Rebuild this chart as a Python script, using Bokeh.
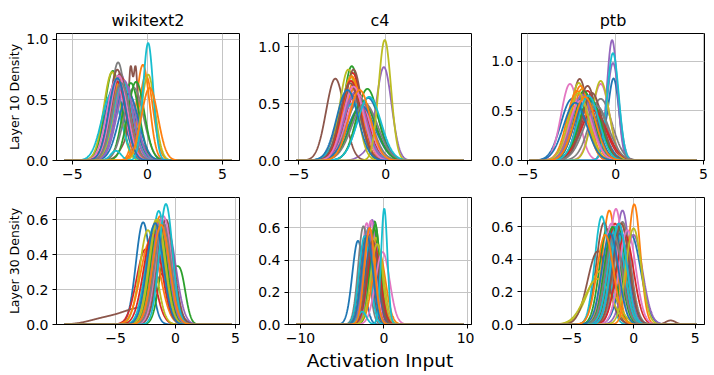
import numpy as np
from bokeh.plotting import figure
from bokeh.layouts import column, row
from bokeh.models import FixedTicker, CustomJSTickFormatter, Range1d
from bokeh.embed import file_html
from bokeh.resources import INLINE

PALETTE = ["#1f77b4", "#ff7f0e", "#2ca02c", "#d62728", "#9467bd",
           "#8c564b", "#e377c2", "#7f7f7f", "#bcbd22", "#17becf"]

# ---------------- data ----------------
# each curve: main peak centre, peak height, spread; extras: (curve, centre, height, spread)
titles = ["wikitext2", "c4", "ptb"]
row_labels = ["Layer 10 Density", "Layer 30 Density"]
x_label = "Activation Input"

# wikitext2, layer 10
w10_centers = [-2.2, -0.3, -2.3, -1.9, -1.8, -1.12, -1.95, -1.95, -2.35, -2.4,
               -1.5, -0.1, -1.1, -1.7, -1.4, -2.0, -2.1, -0.9, -1.6, -1.65,
               -1.25, -1.8, -0.75, -2.0, -1.55, -1.85, -1.9, -1.75, 0.05, 0.05,
               -2.0, 0.15]
w10_peaks = [0.62, 0.79, 0.74, 0.70, 0.72, 0.52, 0.70, 0.81, 0.73, 0.55,
             0.60, 0.70, 0.64, 0.68, 0.62, 0.75, 0.66, 0.60, 0.66, 0.65,
             0.55, 0.66, 0.65, 0.65, 0.66, 0.71, 0.70, 0.64, 0.71, 0.97,
             0.68, 0.60]
w10_widths = [0.62, 0.44, 0.54, 0.57, 0.56, 0.13, 0.57, 0.49, 0.55, 0.65,
              0.64, 0.48, 0.55, 0.58, 0.63, 0.52, 0.60, 0.64, 0.62, 0.64,
              0.66, 0.58, 0.55, 0.58, 0.58, 0.55, 0.57, 0.60, 0.45, 0.34,
              0.57, 0.55]
w10_extra = [(5, -0.78, 0.52, 0.13), (5, -0.95, 0.25, 0.60),
             (29, -2.1, 0.08, 0.35)]

# c4, layer 10
c10_centers = [-1.0, -1.8, -1.95, -1.9, -0.1, -2.9, -1.8, -2.1, -2.15, -1.6,
               -1.3, -1.75, -1.05, -1.7, -1.9, -1.85, -1.6, -1.5, -2.0, -1.9,
               -1.4, -1.95, -1.3, -2.0, -1.75, -2.05, -1.85, -1.2, -0.05, -0.95,
               -2.2, -1.5]
c10_peaks = [0.55, 0.70, 0.83, 0.77, 0.82, 0.72, 0.62, 0.60, 0.80, 0.50,
             0.50, 0.65, 0.63, 0.60, 0.55, 0.80, 0.58, 0.55, 0.74, 0.50,
             0.48, 0.74, 0.52, 0.70, 0.60, 0.68, 0.65, 0.50, 1.06, 0.56,
             0.62, 0.62]
c10_widths = [0.66, 0.55, 0.48, 0.52, 0.44, 0.53, 0.62, 0.65, 0.50, 0.75,
              0.75, 0.60, 0.62, 0.65, 0.70, 0.49, 0.66, 0.70, 0.54, 0.75,
              0.78, 0.54, 0.72, 0.56, 0.64, 0.58, 0.60, 0.75, 0.36, 0.68,
              0.62, 0.62]
c10_extra = [(4, -1.2, 0.05, 0.40)]

# ptb, layer 10
p10_centers = [-0.1, -1.9, -1.5, -1.6, -0.2, -2.05, -2.6, -0.85, -2.1, -1.75,
               -1.4, -2.0, -1.8, -1.3, -0.15, -1.6, -0.85, -1.2, -0.85, -0.15,
               -1.7, -2.2, -1.45, -1.25, -1.9, -1.35, -2.0, -1.1, -2.1, -1.55,
               -2.3, -1.75]
p10_peaks = [0.78, 0.72, 0.60, 0.70, 1.21, 0.82, 0.77, 0.62, 0.78, 0.68,
             0.60, 0.75, 0.70, 0.55, 0.98, 0.75, 0.77, 0.58, 0.80, 1.08,
             0.62, 0.70, 0.62, 0.50, 0.66, 0.68, 0.60, 0.55, 0.68, 0.65,
             0.58, 0.64]
p10_widths = [0.30, 0.55, 0.64, 0.56, 0.30, 0.48, 0.50, 0.64, 0.51, 0.58,
              0.66, 0.53, 0.56, 0.70, 0.34, 0.53, 0.50, 0.68, 0.48, 0.33,
              0.63, 0.56, 0.63, 0.75, 0.60, 0.58, 0.65, 0.70, 0.58, 0.61,
              0.66, 0.62]
p10_extra = [(0, -2.55, 0.58, 0.60), (0, -1.3, 0.32, 0.60)]

# wikitext2, layer 30
w30_centers = [-2.7, -1.3, -0.8, -2.5, -1.0, -0.9, -1.1, -0.9, -2.3, -1.4,
               -1.6, -2.1, -1.2, -1.5, -0.7, -1.0, -1.2, -1.3, -1.6, -1.8,
               -1.1, -1.3, -1.4, -1.9, -1.25, -0.8, -1.0, -1.05, -1.5, -0.8,
               -1.7, -1.2]
w30_peaks = [0.585, 0.62, 0.42, 0.43, 0.58, 0.26, 0.60, 0.57, 0.54, 0.65,
             0.55, 0.48, 0.55, 0.60, 0.55, 0.55, 0.58, 0.60, 0.60, 0.56,
             0.50, 0.60, 0.56, 0.52, 0.60, 0.60, 0.62, 0.58, 0.60, 0.69,
             0.58, 0.57]
w30_widths = [0.60, 0.62, 0.55, 0.75, 0.68, 0.80, 0.66, 0.69, 0.68, 0.60,
              0.72, 0.82, 0.72, 0.66, 0.72, 0.72, 0.68, 0.66, 0.66, 0.70,
              0.78, 0.66, 0.70, 0.76, 0.66, 0.66, 0.64, 0.68, 0.66, 0.56,
              0.68, 0.70]
w30_extra = [(2, 0.4, 0.28, 0.45), (5, -3.0, 0.09, 1.5), (5, -6.0, 0.03, 1.3)]

# c4, layer 30
c30_centers = [-3.1, -1.0, -1.1, -1.4, -1.4, -1.9, -2.05, -2.45, -1.6, -1.85,
               -1.7, -1.3, -1.2, -1.6, -1.0, -2.2, -1.55, -1.8, -0.95, -2.3,
               -1.5, -0.6, -1.05, -1.2, -1.8, -1.35, -0.15, -1.9, -0.8, 0.05,
               -2.0, -1.7]
c30_peaks = [0.52, 0.52, 0.64, 0.58, 0.65, 0.58, 0.63, 0.61, 0.55, 0.60,
             0.50, 0.55, 0.60, 0.56, 0.50, 0.55, 0.645, 0.55, 0.54, 0.55,
             0.50, 0.45, 0.62, 0.50, 0.60, 0.52, 0.45, 0.50, 0.50, 0.72,
             0.55, 0.60]
c30_widths = [0.68, 0.72, 0.60, 0.66, 0.58, 0.66, 0.60, 0.62, 0.68, 0.62,
              0.76, 0.70, 0.64, 0.68, 0.76, 0.68, 0.60, 0.68, 0.70, 0.66,
              0.76, 0.80, 0.60, 0.76, 0.62, 0.72, 0.85, 0.76, 0.76, 0.38,
              0.68, 0.62]
c30_extra = [(29, -2.6, 0.08, 0.50)]

# ptb, layer 30
p30_centers = [-0.2, -1.97, -2.15, -1.2, -0.9, -2.4, -1.43, -0.9, -2.65, -2.58,
               -1.6, -1.0, -1.3, -1.5, 0.0, -2.9, -1.8, -1.4, -2.9, -1.43,
               -1.1, 0.05, -1.7, -0.7, -1.2, -1.0, -0.5, -1.6, 0.0, -1.2,
               -1.9, -2.3]
p30_peaks = [0.55, 0.70, 0.585, 0.58, 0.70, 0.625, 0.71, 0.63, 0.33, 0.665,
             0.60, 0.62, 0.60, 0.62, 0.55, 0.45, 0.62, 0.58, 0.28, 0.60,
             0.56, 0.738, 0.60, 0.55, 0.62, 0.62, 0.58, 0.55, 0.59, 0.62,
             0.56, 0.55]
p30_widths = [0.78, 0.56, 0.62, 0.68, 0.58, 0.62, 0.56, 0.65, 1.05, 0.56,
              0.67, 0.65, 0.67, 0.65, 0.72, 0.82, 0.62, 0.67, 1.05, 0.65,
              0.70, 0.50, 0.65, 0.70, 0.65, 0.65, 0.67, 0.67, 0.62, 0.63,
              0.67, 0.67]
p30_extra = [(5, 3.0, 0.025, 0.40)]

# axis ranges and ticks
x_ranges = [(-6.05, 6.13), (-5.6, 4.95), (-5.36, 5.06),
            (-9.92, 5.33), (-11.44, 10.52), (-9.09, 5.75)]
y_ranges = [(0, 1.049), (0, 1.117), (0, 1.277),
            (0, 0.727), (0, 0.789), (0, 0.780)]
x_ticks = [[-5, 0, 5], [-5, 0], [-5, 0, 5],
           [-5, 0, 5], [-10, 0, 10], [-5, 0, 5]]
y_ticks = [[0, 0.5, 1.0], [0, 0.5, 1.0], [0, 0.5, 1.0],
           [0, 0.2, 0.4, 0.6], [0, 0.2, 0.4, 0.6], [0, 0.2, 0.4, 0.6]]

panels = [
    (w10_centers, w10_peaks, w10_widths, w10_extra),
    (c10_centers, c10_peaks, c10_widths, c10_extra),
    (p10_centers, p10_peaks, p10_widths, p10_extra),
    (w30_centers, w30_peaks, w30_widths, w30_extra),
    (c30_centers, c30_peaks, c30_widths, c30_extra),
    (p30_centers, p30_peaks, p30_widths, p30_extra),
]

FONT = "DejaVu Sans"
x_fmt = CustomJSTickFormatter(code="return (tick < 0 ? '\\u2212' : '') + Math.abs(tick).toFixed(0);")
y_fmt = CustomJSTickFormatter(code="return (tick < 0 ? '\\u2212' : '') + Math.abs(tick).toFixed(1);")

col_widths = [240, 234, 240]
col_left = [56, 48, 47]
col_right = [1, 3, 10]
row_heights = [185, 190]
row_top = [33, 12]
row_bottom = [25, 51]

figs = []
for k in range(6):
    r, c = divmod(k, 3)
    xr, yr = x_ranges[k], y_ranges[k]
    p = figure(width=col_widths[c], height=row_heights[r],
               x_range=Range1d(*xr), y_range=Range1d(*yr),
               output_backend="svg", toolbar_location=None,
               title=titles[c] if r == 0 else None,
               min_border_left=col_left[c], min_border_right=col_right[c],
               min_border_top=row_top[r], min_border_bottom=row_bottom[r])
    p.background_fill_color = "white"
    p.border_fill_color = "white"
    p.outline_line_color = "black"
    p.outline_line_width = 1
    if r == 0:
        p.title.align = "center"
        p.title.text_font = FONT
        p.title.text_font_size = "16px"
        p.title.text_font_style = "normal"
        p.title.text_color = "black"
        p.title.standoff = 7
    p.xaxis.ticker = FixedTicker(ticks=x_ticks[k])
    p.yaxis.ticker = FixedTicker(ticks=y_ticks[k])
    p.xaxis.formatter = x_fmt
    p.yaxis.formatter = y_fmt
    for ax in (p.xaxis[0], p.yaxis[0]):
        ax.major_tick_out = 4
        ax.major_tick_in = 0
        ax.minor_tick_line_color = None
        ax.axis_line_color = "black"
        ax.major_tick_line_color = "black"
        ax.major_label_text_font = FONT
        ax.major_label_text_font_size = "14px"
        ax.major_label_text_color = "black"
        ax.major_label_standoff = 4
    p.grid.grid_line_color = "#c4c4c4"
    p.grid.grid_line_width = 1
    if c == 0:
        p.yaxis.axis_label = row_labels[r]
        p.yaxis.axis_label_text_font = FONT
        p.yaxis.axis_label_text_font_size = "12.5px"
        p.yaxis.axis_label_text_font_style = "normal"
        p.yaxis.axis_label_text_color = "black"
        p.yaxis.axis_label_standoff = 1
    if r == 1 and c == 1:
        p.xaxis.axis_label = x_label
        p.xaxis.axis_label_text_font = FONT
        p.xaxis.axis_label_text_font_size = "18.5px"
        p.xaxis.axis_label_text_font_style = "normal"
        p.xaxis.axis_label_text_color = "black"
        p.xaxis.axis_label_standoff = 4

    centers, peaks, widths, extra = panels[k]
    span = xr[1] - xr[0]
    xs = np.linspace(xr[0] + span * 0.05 / 1.1, xr[1] - span * 0.05 / 1.1, 600)
    for i in range(len(centers)):
        ys = peaks[i] * np.exp(-0.5 * ((xs - centers[i]) / widths[i]) ** 2)
        for (j, cc, hh, ss) in extra:
            if j == i:
                ys = ys + hh * np.exp(-0.5 * ((xs - cc) / ss) ** 2)
        p.line(xs, ys, line_color=PALETTE[i % 10], line_width=1.8)
    figs.append(p)

layout = column(row(*figs[:3]), row(*figs[3:]))
with open("out.html", "w", encoding="utf-8") as f:
    f.write(file_html(layout, INLINE))
